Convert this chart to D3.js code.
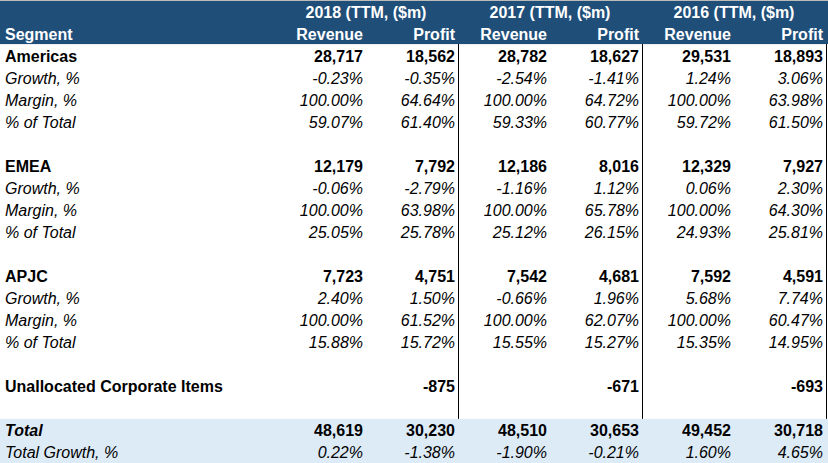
<!DOCTYPE html>
<html>
<head>
<meta charset="utf-8">
<script src="https://cdn.jsdelivr.net/npm/d3@7"></script>
<style>
  body { margin: 0; background: #fff; }
  text { font-family: "Liberation Sans", Arial, sans-serif; font-size: 16px; }
</style>
</head>
<body>
<script>
// Table data
const years = ["2018", "2017", "2016"];
const segments = ["Americas", "EMEA", "APJC"];

const americasRevenue = [28717, 28782, 29531];
const americasProfit = [18562, 18627, 18893];
const americasRevGrowth = [-0.23, -2.54, 1.24];
const americasProfGrowth = [-0.35, -1.41, 3.06];
const americasMargin = [64.64, 64.72, 63.98];
const americasRevShare = [59.07, 59.33, 59.72];
const americasProfShare = [61.40, 60.77, 61.50];

const emeaRevenue = [12179, 12186, 12329];
const emeaProfit = [7792, 8016, 7927];
const emeaRevGrowth = [-0.06, -1.16, 0.06];
const emeaProfGrowth = [-2.79, 1.12, 2.30];
const emeaMargin = [63.98, 65.78, 64.30];
const emeaRevShare = [25.05, 25.12, 24.93];
const emeaProfShare = [25.78, 26.15, 25.81];

const apjcRevenue = [7723, 7542, 7592];
const apjcProfit = [4751, 4681, 4591];
const apjcRevGrowth = [2.40, -0.66, 5.68];
const apjcProfGrowth = [1.50, 1.96, 7.74];
const apjcMargin = [61.52, 62.07, 60.47];
const apjcRevShare = [15.88, 15.55, 15.35];
const apjcProfShare = [15.72, 15.27, 14.95];

const revenueMargin = [100, 100, 100];
const unallocated = [-875, -671, -693];

const totalRevenue = [48619, 48510, 49452];
const totalProfit = [30230, 30653, 30718];
const totalRevGrowth = [0.22, -1.90, 1.60];
const totalProfGrowth = [-1.38, -0.21, 4.65];

const width = 828, height = 463;
// spreadsheet style: plain hyphen for negatives
const num = v => d3.format(",")(v).replace("\u2212", "-");
const pct = v => d3.format(".2f")(v).replace("\u2212", "-") + "%";

// Build row list
const segData = {
  Americas: [americasRevenue, americasProfit, americasRevGrowth, americasProfGrowth, americasMargin, americasRevShare, americasProfShare],
  EMEA: [emeaRevenue, emeaProfit, emeaRevGrowth, emeaProfGrowth, emeaMargin, emeaRevShare, emeaProfShare],
  APJC: [apjcRevenue, apjcProfit, apjcRevGrowth, apjcProfGrowth, apjcMargin, apjcRevShare, apjcProfShare]
};

function pairs(rev, prof, fmt) {
  const out = [];
  years.forEach((y, i) => { out.push(rev ? fmt(rev[i]) : ""); out.push(prof ? fmt(prof[i]) : ""); });
  return out;
}

const rows = [];
rows.push({ type: "head1", label: "", cells: [] });
rows.push({ type: "head2", label: "Segment", cells: years.flatMap(() => ["Revenue", "Profit"]) });
segments.forEach(s => {
  const [rev, prof, rg, pg, m, rs, ps] = segData[s];
  rows.push({ type: "seg", label: s, cells: pairs(rev, prof, num) });
  rows.push({ type: "sub", label: "Growth, %", cells: pairs(rg, pg, pct) });
  rows.push({ type: "sub", label: "Margin, %", cells: pairs(revenueMargin, m, pct) });
  rows.push({ type: "sub", label: "% of Total", cells: pairs(rs, ps, pct) });
  rows.push({ type: "blank", label: "", cells: [] });
});
rows.push({ type: "seg", label: "Unallocated Corporate Items", cells: pairs(null, unallocated, num) });
rows.push({ type: "blank", label: "", cells: [] });
rows.push({ type: "total", label: "Total", cells: pairs(totalRevenue, totalProfit, num) });
rows.push({ type: "totsub", label: "Total Growth, %", cells: pairs(totalRevGrowth, totalProfGrowth, pct) });

// Scales
const y = d3.scaleBand().domain(d3.range(rows.length)).range([0, height]);
const group = d3.scaleBand().domain(years).range([275, 827]);
const colRight = (i) => {
  const yr = years[Math.floor(i / 2)];
  return i % 2 === 0 ? group(yr) + group.bandwidth() / 2 - 4 : group(yr) + group.bandwidth() - 4;
};

const svg = d3.select("body").append("svg")
  .attr("width", width).attr("height", height);

// Backgrounds
svg.append("rect").attr("x", 0).attr("y", 0).attr("width", width)
  .attr("height", y(2)).attr("fill", "#1F4E79");
svg.append("rect").attr("x", 0).attr("y", y(rows.length - 2)).attr("width", width)
  .attr("height", height - y(rows.length - 2)).attr("fill", "#DDEBF7");
svg.append("line").attr("x1", 0).attr("x2", width).attr("y1", 0.5).attr("y2", 0.5)
  .attr("stroke", "#bbb");

// Vertical separators
const sepX = years.map(yr => group(yr) + group.bandwidth());
svg.selectAll("line.sep").data(sepX).enter().append("line")
  .attr("class", "sep")
  .attr("x1", d => Math.round(d) - 0.5).attr("x2", d => Math.round(d) - 0.5)
  .attr("y1", y(2)).attr("y2", y(rows.length - 2))
  .attr("stroke", "#000").attr("stroke-width", 1);

// Year headers
svg.selectAll("text.year").data(years).enter().append("text")
  .attr("class", "year")
  .attr("x", d => group(d) + group.bandwidth() / 2 - 1)
  .attr("y", y(0) + 17.5)
  .attr("text-anchor", "middle")
  .attr("fill", "#fff").attr("font-weight", "bold")
  .text(d => d + " (TTM, ($m)");

const styleOf = {
  head2: { fill: "#fff", weight: "bold", style: "normal", lstyle: "normal" },
  seg: { fill: "#000", weight: "bold", style: "normal", lstyle: "normal" },
  sub: { fill: "#000", weight: "normal", style: "italic", lstyle: "italic" },
  total: { fill: "#000", weight: "bold", style: "normal", lstyle: "italic" },
  totsub: { fill: "#000", weight: "normal", style: "italic", lstyle: "italic" }
};

const rowG = svg.selectAll("g.row").data(rows.filter(r => styleOf[r.type]))
  .enter().append("g")
  .attr("class", "row")
  .attr("transform", d => `translate(0,${y(rows.indexOf(d)) + 17.5})`);

rowG.append("text")
  .attr("x", 5)
  .attr("fill", d => styleOf[d.type].fill)
  .attr("font-weight", d => styleOf[d.type].weight)
  .attr("font-style", d => styleOf[d.type].lstyle)
  .text(d => d.label);

rowG.selectAll("text.cell").data(d => d.cells.map((c, i) => ({ c, i, t: d.type })))
  .enter().append("text")
  .attr("class", "cell")
  .attr("x", d => colRight(d.i))
  .attr("text-anchor", "end")
  .attr("fill", d => styleOf[d.t].fill)
  .attr("font-weight", d => styleOf[d.t].weight)
  .attr("font-style", d => styleOf[d.t].style)
  .text(d => d.c);
</script>
</body>
</html>
